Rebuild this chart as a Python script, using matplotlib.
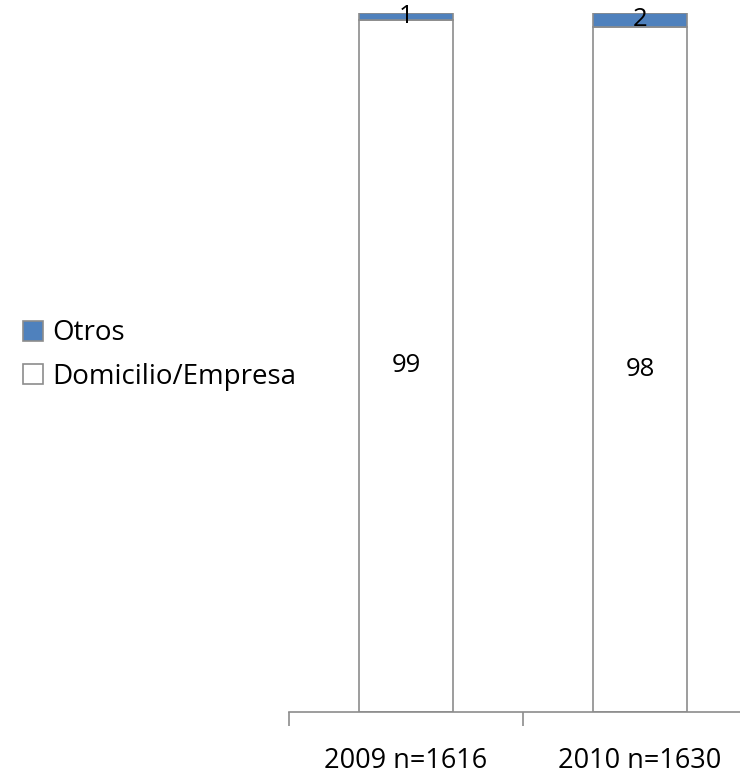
import matplotlib.pyplot as plt
import numpy as np

plt.rcParams['font.family'] = ['Open Sans', 'DejaVu Sans']

# data
categories = ["2009 n=1616", "2010 n=1630"]
domicilio = [99, 98]
otros = [1, 2]

blue = "#4f81bd"
edge = "#8c8c8c"

fig = plt.figure(figsize=(7.4, 7.78), dpi=100)
ax = fig.add_axes([289 / 740, 1 - 712 / 778, 468 / 740, 699 / 778])

x = np.arange(len(categories))
b1 = ax.bar(x, domicilio, width=0.4, color="white", edgecolor=edge, linewidth=1.2,
            label="Domicilio/Empresa")
b2 = ax.bar(x, otros, width=0.4, bottom=domicilio, color=blue, edgecolor=edge,
            linewidth=1.2, label="Otros")

for i in range(len(categories)):
    ax.text(x[i], domicilio[i] / 2, str(domicilio[i]), ha="center", va="center",
            fontsize=18.5)
    ax.text(x[i], domicilio[i] + otros[i] / 2, str(otros[i]), ha="center",
            va="center", fontsize=18.5)

ax.set_xlim(-0.5, 1.5)
ax.set_ylim(0, 100)
ax.set_yticks([])
for s in ["top", "right", "left"]:
    ax.spines[s].set_visible(False)
ax.spines["bottom"].set_color(edge)
ax.spines["bottom"].set_linewidth(1.2)

ax.set_xticks([-0.5, 0.5, 1.5])
ax.set_xticklabels([])
ax.set_xticks(x, minor=True)
ax.set_xticklabels(categories, minor=True, fontsize=19.5)
ax.tick_params(axis="x", which="major", length=10, color=edge, width=1.2)
ax.tick_params(axis="x", which="minor", length=0, pad=25)

handles = [b2, b1]
fig.legend(handles, ["Otros", "Domicilio/Empresa"], loc="center left",
           bbox_to_anchor=(9 / 740, 1 - 355 / 778), frameon=False, fontsize=20,
           borderpad=0, handlelength=0.72, handleheight=0.72, handletextpad=0.35,
           labelspacing=0.55)

fig.savefig("out.png", dpi=100)
